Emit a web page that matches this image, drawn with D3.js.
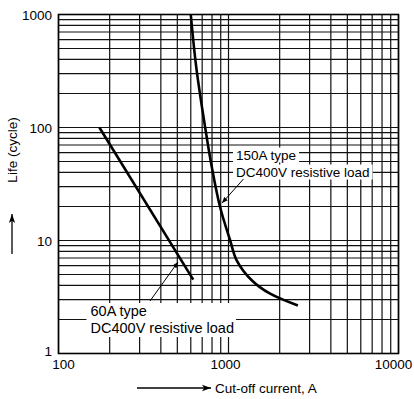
<!DOCTYPE html>
<html>
<head>
<meta charset="utf-8">
<script src="https://cdn.jsdelivr.net/npm/d3@7"></script>
<style>
  body { margin: 0; background: #fff; }
  svg { font-family: "Liberation Sans", Arial, sans-serif; }
</style>
</head>
<body>
<svg width="414" height="399"></svg>
<script>
// chart data
var xDomain = [100, 10000],
    yDomain = [1, 1000];
var xTickLabels = [100, 1000, 10000],
    yTickLabels = [1, 10, 100, 1000];
// 60A type, straight line on log-log
var curve60 = [[174, 100], [620, 4.5]];
// 150A type
var curve150 = [[600, 1000], [646, 342], [729, 100], [798, 44.5], [893, 19.7],
                [1023, 10], [1119, 6.65], [1374, 4.43], [1758, 3.38], [2560, 2.66]];
var label60 = ["60A type", "DC400V resistive load"],
    label150 = ["150A type", "DC400V resistive load"];

var svg = d3.select("svg");

var x = d3.scaleLog().domain(xDomain).range([58.5, 398.5]);
var y = d3.scaleLog().domain(yDomain).range([353.5, 14.5]);

var defs = svg.append("defs");
defs.append("marker").attr("id", "head")
    .attr("viewBox", "0 0 10 10").attr("refX", 10).attr("refY", 5)
    .attr("markerWidth", 9).attr("markerHeight", 9).attr("markerUnits", "userSpaceOnUse")
    .attr("orient", "auto")
    .append("path").attr("d", "M0,1.5 L10,5 L0,8.5 L2.5,5 Z").attr("fill", "#000");
defs.append("marker").attr("id", "small")
    .attr("viewBox", "0 0 10 10").attr("refX", 10).attr("refY", 5)
    .attr("markerWidth", 6).attr("markerHeight", 6).attr("markerUnits", "userSpaceOnUse")
    .attr("orient", "auto")
    .append("path").attr("d", "M0,1 L10,5 L0,9 Z").attr("fill", "#000");

// grid
var grid = svg.append("g").attr("class", "grid");
grid.selectAll("line.v").data(x.ticks()).enter().append("line")
    .attr("x1", function(d) { return x(d); }).attr("x2", function(d) { return x(d); })
    .attr("y1", y(yDomain[0])).attr("y2", y(yDomain[1]))
    .attr("stroke", "#111").attr("stroke-width", 1.2);
grid.selectAll("line.h").data(y.ticks()).enter().append("line")
    .attr("y1", function(d) { return y(d); }).attr("y2", function(d) { return y(d); })
    .attr("x1", x(xDomain[0])).attr("x2", x(xDomain[1]))
    .attr("stroke", "#111").attr("stroke-width", 1.2);

// label boxes hide the grid under the texts
var notes = svg.append("g");

function addLabel(lines, tx, ty, fs, perLine) {
    var g = notes.append("g");
    var texts = lines.map(function(t, i) {
        return g.append("text").attr("x", tx).attr("y", ty + i * 17)
            .attr("font-size", fs).text(t);
    });
    var boxes = texts.map(function(t) { return t.node().getBBox(); });
    if (perLine) {
        boxes.forEach(function(b) {
            g.insert("rect", "text").attr("x", b.x - 3).attr("y", b.y)
                .attr("width", b.width + 6).attr("height", b.height).attr("fill", "#fff");
        });
    } else {
        var x0 = d3.min(boxes, function(b) { return b.x; }),
            x1 = d3.max(boxes, function(b) { return b.x + b.width; }),
            y0 = d3.min(boxes, function(b) { return b.y; }),
            y1 = d3.max(boxes, function(b) { return b.y + b.height; });
        g.insert("rect", "text").attr("x", x0 - 4).attr("y", y0)
            .attr("width", x1 - x0 + 6).attr("height", y1 - y0 + 1).attr("fill", "#fff");
    }
}
addLabel(label60, 90.5, 316, 14.5, false);
addLabel(label150, 236, 159.5, 13.5, true);

// frame
svg.append("rect")
    .attr("x", x(xDomain[0])).attr("y", y(yDomain[1]))
    .attr("width", x(xDomain[1]) - x(xDomain[0]))
    .attr("height", y(yDomain[0]) - y(yDomain[1]))
    .attr("fill", "none").attr("stroke", "#000").attr("stroke-width", 1.6);

// curves
var line = d3.line()
    .x(function(d) { return x(d[0]); })
    .y(function(d) { return y(d[1]); });
svg.append("path").datum(curve60)
    .attr("d", line).attr("fill", "none").attr("stroke", "#000").attr("stroke-width", 2.6);
svg.append("path").datum(curve150)
    .attr("d", line.curve(d3.curveCatmullRom)).attr("fill", "none")
    .attr("stroke", "#000").attr("stroke-width", 2.6);

// leader arrows
svg.append("line").attr("x1", 150).attr("y1", 301).attr("x2", 178).attr("y2", 262)
    .attr("stroke", "#000").attr("stroke-width", 1).attr("marker-end", "url(#small)");
svg.append("line").attr("x1", 243.5).attr("y1", 179).attr("x2", 222).attr("y2", 203)
    .attr("stroke", "#000").attr("stroke-width", 1).attr("marker-end", "url(#small)");

// tick labels
svg.append("g").selectAll("text").data(yTickLabels).enter().append("text")
    .attr("x", 52).attr("y", function(d) { return y(d) + 5; })
    .attr("dy", function(d) { return d === 1 ? -3 : 0; })
    .attr("text-anchor", "end").attr("font-size", 13.5)
    .text(function(d) { return d; });
svg.append("g").selectAll("text").data(xTickLabels).enter().append("text")
    .attr("x", function(d) { return x(d); })
    .attr("dx", function(d) { return d === 100 ? 5 : (d === 10000 ? -5 : -3); })
    .attr("y", 369)
    .attr("text-anchor", "middle").attr("font-size", 13.5)
    .text(function(d) { return d; });

// axis titles with arrows
svg.append("text")
    .attr("transform", "translate(17,150) rotate(-90)")
    .attr("text-anchor", "middle").attr("font-size", 13.5)
    .text("Life (cycle)");
svg.append("line").attr("x1", 12).attr("y1", 254).attr("x2", 12).attr("y2", 214)
    .attr("stroke", "#000").attr("stroke-width", 1.3).attr("marker-end", "url(#head)");
svg.append("text").attr("x", 215).attr("y", 392.5).attr("font-size", 13.5)
    .text("Cut-off current, A");
svg.append("line").attr("x1", 137).attr("y1", 388).attr("x2", 211).attr("y2", 388)
    .attr("stroke", "#000").attr("stroke-width", 1.3).attr("marker-end", "url(#head)");
</script>
</body>
</html>
